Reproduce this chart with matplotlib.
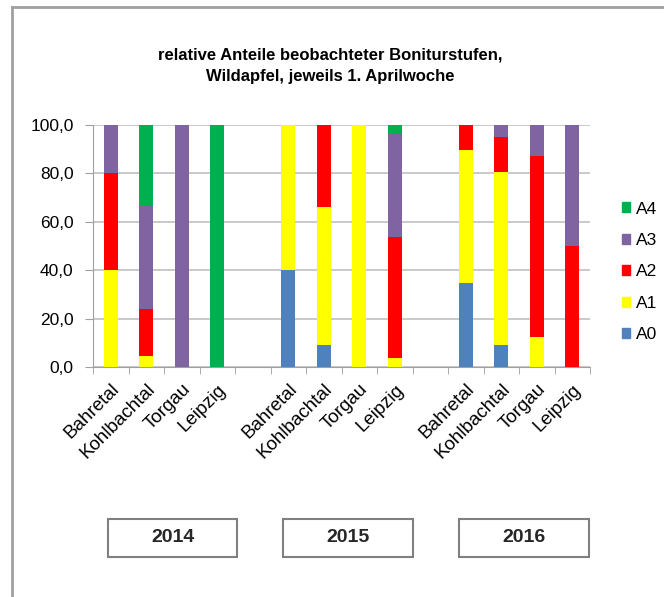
import numpy as np
import matplotlib
matplotlib.use("Agg")
import matplotlib.pyplot as plt
from matplotlib.lines import Line2D
from matplotlib.patches import Rectangle, Patch

plt.rcParams['font.family'] = ['Liberation Sans', 'DejaVu Sans']

### data
sites = ["Bahretal", "Kohlbachtal", "Torgau", "Leipzig"]
years = ["2014", "2015", "2016"]
series = ["A0", "A1", "A2", "A3", "A4"]
a0 = [0, 0, 0, 0, 40, 9.2, 0, 0, 34.7, 9.2, 0, 0]
a1 = [40, 4.5, 0, 0, 60, 57.1, 100, 3.7, 55, 71.5, 12.2, 0]
a2 = [40, 19.5, 0, 0, 0, 33.7, 0, 50, 10.3, 14.5, 75, 50]
a3 = [20, 42.5, 100, 0, 0, 0, 0, 42.4, 0, 4.8, 12.8, 50]
a4 = [0, 33.5, 0, 100, 0, 0, 0, 3.9, 0, 0, 0, 0]
colors = ["#4F81BD", "#FFFF00", "#FF0000", "#8064A2", "#00B050"]

W, H = 664, 597
fig = plt.figure(figsize=(W / 100, H / 100), dpi=100)
ax = fig.add_axes([93 / W, 1 - 367 / H, 497 / W, 242 / H])

# positions: 4 bars per year, one empty slot between years
x = np.array([g * 5 + i for g in range(len(years)) for i in range(len(sites))])
bottom = np.zeros(len(x))
for vals, c, name in zip([a0, a1, a2, a3, a4], colors, series):
    vals = np.array(vals, dtype=float)
    ax.bar(x, vals, bottom=bottom, width=0.4, color=c, label=name, zorder=3)
    bottom += vals

ax.set_xlim(-0.5, 13.5)
ax.set_ylim(0, 100)
ax.set_yticks(np.arange(0, 101, 20))
ax.set_yticklabels([f"{v:.1f}".replace(".", ",") for v in np.arange(0, 101, 20)], fontsize=12.5)
ax.grid(axis='y', color='#c0c0c0', linewidth=1.2, zorder=0)
ax.set_xticks(x)
ax.set_xticklabels(sites * len(years), rotation=45, ha='right', rotation_mode='anchor', fontsize=13.5)
ax.tick_params(axis='x', length=0, pad=10)
ax.set_xticks(np.arange(-0.5, 14, 1), minor=True)
ax.tick_params(axis='x', which='minor', length=5, color='#a0a0a0')
ax.tick_params(axis='y', length=6, color='#a0a0a0', pad=8)
for s in ['top', 'right']:
    ax.spines[s].set_visible(False)
for s in ['left', 'bottom']:
    ax.spines[s].set_color('#a0a0a0')

fig.text(330 / W, 1 - 55 / H, "relative Anteile beobachteter Boniturstufen,", ha='center', va='center',
         fontsize=12, fontweight='bold')
fig.text(330 / W, 1 - 77 / H, "Wildapfel, jeweils 1. Aprilwoche", ha='center', va='center',
         fontsize=12, fontweight='bold')

# legend
handles = [Patch(color=c, label=n) for c, n in zip(colors, series)][::-1]
fig.legend(handles=handles, loc='center left', bbox_to_anchor=(606 / W, 1 - 272 / H), frameon=False,
           fontsize=12.5, handlelength=0.5, handleheight=0.5, handletextpad=0.3, labelspacing=0.95)

# year boxes
for yr, (x0, x1) in zip(years, [(108, 237), (283, 413), (459, 589)]):
    fig.patches.append(Rectangle((x0 / W, 1 - 557 / H), (x1 - x0) / W, 38 / H, transform=fig.transFigure,
                                 fill=False, edgecolor='#808080', linewidth=1.5))
    fig.text((x0 + x1) / 2 / W, 1 - 538 / H, yr, ha='center', va='center', fontsize=14, fontweight='bold',
             color='#262626')

# outer frame
fig.add_artist(Line2D([12 / W, 12 / W], [0, 1 - 7 / H], transform=fig.transFigure, color='#a0a0a0', linewidth=2))
fig.add_artist(Line2D([12 / W, 1], [1 - 7 / H, 1 - 7 / H], transform=fig.transFigure, color='#a0a0a0', linewidth=2))

fig.savefig("out.png", dpi=100)
